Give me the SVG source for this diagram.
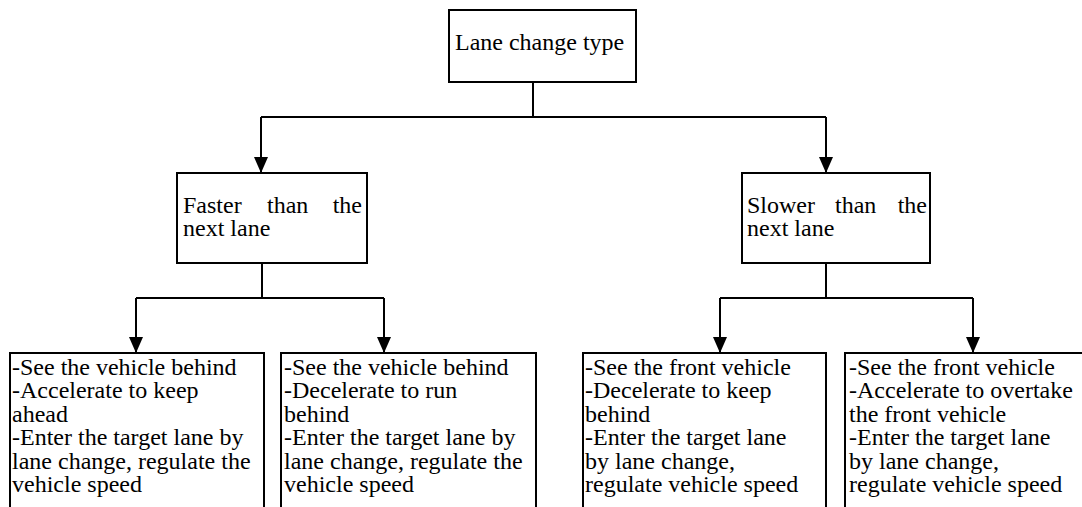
<svg xmlns="http://www.w3.org/2000/svg" width="1082" height="507" viewBox="0 0 1082 507">
<style>
.box{fill:#fff;stroke:#000;stroke-width:2}
.c{fill:none;stroke:#000;stroke-width:2}
</style>
<defs>
<marker id="ah" markerWidth="16" markerHeight="14" refX="16" refY="7" orient="auto" markerUnits="userSpaceOnUse" viewBox="0 0 16 14">
<path d="M0,0 L16,7 L0,14 Z" fill="#000"/>
</marker>
</defs>
<rect width="1082" height="507" fill="#fff"/>
<g id="connectors">
<path class="c" d="M533,82 V117"/>
<path class="c" d="M261,117 H826"/>
<path class="c" d="M261,117 V173" marker-end="url(#ah)"/>
<path class="c" d="M826,117 V173" marker-end="url(#ah)"/>
<path class="c" d="M262,263 V298"/>
<path class="c" d="M136,298 H384"/>
<path class="c" d="M136,298 V353" marker-end="url(#ah)"/>
<path class="c" d="M384,298 V353" marker-end="url(#ah)"/>
<path class="c" d="M826,263 V298"/>
<path class="c" d="M720,298 H973"/>
<path class="c" d="M720,298 V353" marker-end="url(#ah)"/>
<path class="c" d="M973,298 V353" marker-end="url(#ah)"/>
</g>
<g font-family="'Liberation Serif', 'Times New Roman', 'DejaVu Serif', serif" font-size="24" fill="#000">
<g id="root">
<rect class="box" x="449" y="10" width="187" height="72"/>
<text x="455" y="50">Lane change type</text>
</g>
<g id="faster">
<rect class="box" x="177" y="173" width="190" height="90"/>
<text x="183" y="213">Faster</text>
<text x="267" y="213">than</text>
<text x="362" y="213" text-anchor="end">the</text>
<text x="183" y="236">next lane</text>
</g>
<g id="slower">
<rect class="box" x="742" y="173" width="188" height="90"/>
<text x="747" y="213">Slower</text>
<text x="835" y="213">than</text>
<text x="927" y="213" text-anchor="end">the</text>
<text x="747" y="236">next lane</text>
</g>
<g id="fa1">
<rect class="box" x="10" y="353" width="254" height="170"/>
<text x="12" y="375">-See the vehicle behind</text>
<text x="12" y="398.4">-Accelerate to keep</text>
<text x="12" y="421.8">ahead</text>
<text x="12" y="445.2">-Enter the target lane by</text>
<text x="12" y="468.6">lane change, regulate the</text>
<text x="12" y="492">vehicle speed</text>
</g>
<g id="fa2">
<rect class="box" x="281" y="353" width="255" height="170"/>
<text x="284" y="375">-See the vehicle behind</text>
<text x="284" y="398.4">-Decelerate to run</text>
<text x="284" y="421.8">behind</text>
<text x="284" y="445.2">-Enter the target lane by</text>
<text x="284" y="468.6">lane change, regulate the</text>
<text x="284" y="492">vehicle speed</text>
</g>
<g id="sl1">
<rect class="box" x="583" y="353" width="243" height="170"/>
<text x="585" y="375">-See the front vehicle</text>
<text x="585" y="398.4">-Decelerate to keep</text>
<text x="585" y="421.8">behind</text>
<text x="585" y="445.2">-Enter the target lane</text>
<text x="585" y="468.6">by lane change,</text>
<text x="585" y="492">regulate vehicle speed</text>
</g>
<g id="sl2">
<rect class="box" x="845" y="353" width="250" height="170"/>
<text x="849" y="375">-See the front vehicle</text>
<text x="849" y="398.4">-Accelerate to overtake</text>
<text x="849" y="421.8">the front vehicle</text>
<text x="849" y="445.2">-Enter the target lane</text>
<text x="849" y="468.6">by lane change,</text>
<text x="849" y="492">regulate vehicle speed</text>
</g>
</g>
</svg>
